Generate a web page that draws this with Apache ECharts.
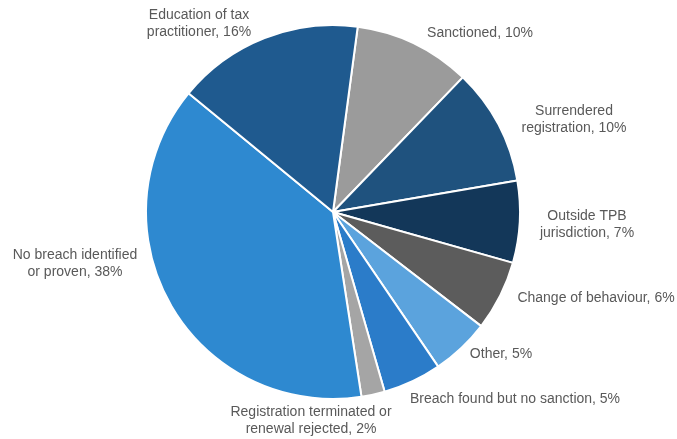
<!DOCTYPE html>
<html>
<head>
<meta charset="utf-8">
<script src="https://cdn.jsdelivr.net/npm/echarts@6/dist/echarts.min.js"></script>
<style>
  html, body { margin: 0; padding: 0; background: #ffffff; }
  #chart { width: 677px; height: 439px; }
</style>
</head>
<body>
<div id="chart"></div>
<script>
// Outcomes of closed investigations, share of cases (%), clockwise from the top
const categories = [
  'Sanctioned',
  'Surrendered\nregistration',
  'Outside TPB\njurisdiction',
  'Change of behaviour',
  'Other',
  'Breach found but no sanction',
  'Registration terminated or\nrenewal rejected',
  'No breach identified\nor proven',
  'Education of tax\npractitioner'
];
const shares = [10, 10, 7, 6, 5, 5, 2, 38, 16];
const sliceColors = [
  '#9b9b9b', '#1f527e', '#133759', '#5c5c5c', '#5ba3dd',
  '#2b7cc9', '#a5a5a5', '#2e89d0', '#1f5a8f'
];

// Pie geometry and where each label sits relative to the pie centre
const CX = 333, CY = 212, R = 187;
const labelOffsets = [
  [147, -179], [241, -92], [254, 13], [263, 86], [168, 142],
  [182, 187], [-22, 209], [-258, 52], [-134, -188]
];

const chart = echarts.init(document.getElementById('chart'), null, { renderer: 'canvas' });

chart.setOption({
  backgroundColor: '#ffffff',
  animation: false,
  series: [{
    type: 'pie',
    center: [CX, CY],
    radius: [0, R],
    startAngle: 82.4,
    clockwise: true,
    avoidLabelOverlap: false,
    data: categories.map((name, i) => ({
      name: name,
      value: shares[i],
      itemStyle: { color: sliceColors[i] }
    })),
    itemStyle: { borderColor: '#ffffff', borderWidth: 2 },
    label: {
      show: true,
      position: 'outside',
      formatter: p => p.name + ', ' + p.value + '%',
      fontFamily: '"Liberation Sans", Arial, sans-serif',
      fontSize: 14,
      lineHeight: 17,
      color: '#595959',
      align: 'center'
    },
    labelLine: { show: false },
    labelLayout: params => {
      const o = labelOffsets[params.dataIndex];
      return { x: CX + o[0], y: CY + o[1], align: 'center', verticalAlign: 'middle' };
    },
    emphasis: { disabled: true }
  }]
});
</script>
</body>
</html>
